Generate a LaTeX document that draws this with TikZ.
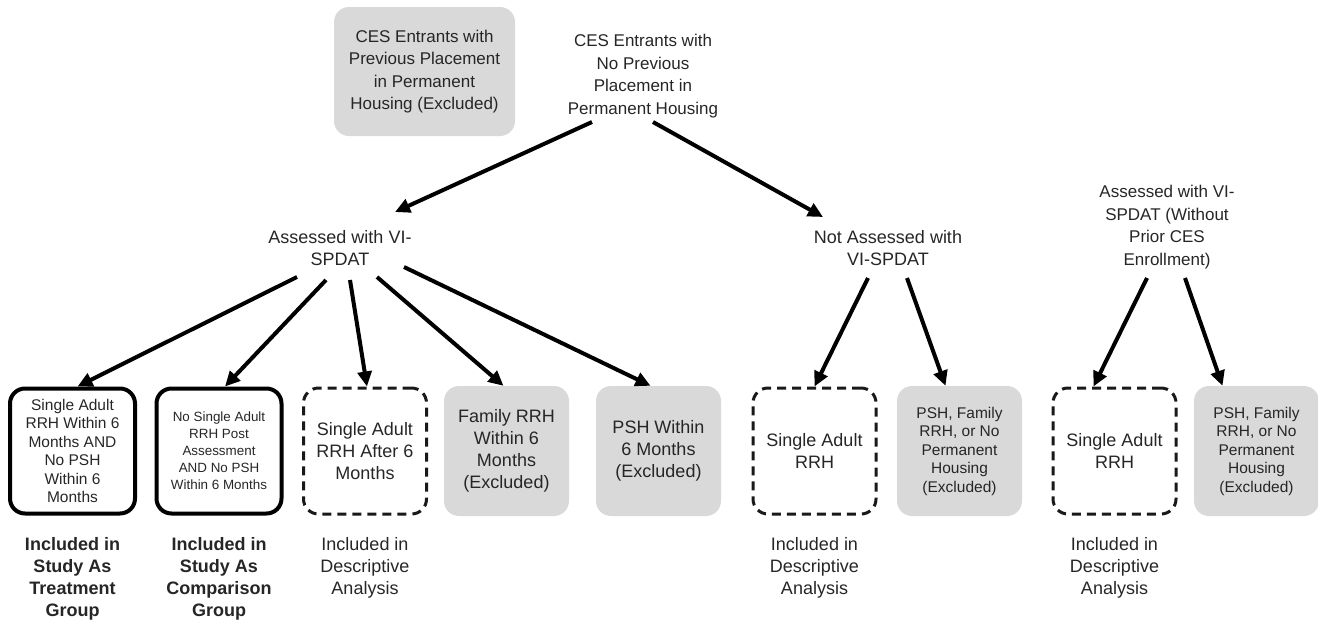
\documentclass[tikz,border=0pt]{standalone}
\usepackage{fontspec}
\setmainfont{Liberation Sans}
\usetikzlibrary{arrows.meta}

\begin{document}
\begin{tikzpicture}[x=1pt,y=-1pt,
  every node/.style={text=black!85, align=center, inner sep=0pt},
  solidbox/.style={draw=black, line width=4pt, rounded corners=15pt, minimum width=125pt, minimum height=125pt},
  dashbox/.style={draw=black!90, line width=3pt, dash pattern=on 9pt off 6pt, rounded corners=15pt, minimum width=123pt, minimum height=126pt},
  greybox/.style={fill=gray!30, rounded corners=15pt, minimum width=125pt, minimum height=130pt},
  arr/.style={line width=4pt, -{Triangle[length=15pt,width=14pt]}},
  big/.style={font=\fontsize{18}{22}\selectfont},
  mid/.style={font=\fontsize{17}{22.5}\selectfont},
  small/.style={font=\fontsize{15.5}{18.5}\selectfont},
  tiny/.style={font=\fontsize{13.4}{17}\selectfont},
  note/.style={font=\fontsize{18}{22}\selectfont},
  notebold/.style={font=\fontsize{18}{22}\selectfont\bfseries}]
\useasboundingbox (0,0) rectangle (1318,622);

% top level
\node[greybox, mid, minimum width=181pt, minimum height=129pt] (prev) at (424.5,71.5)
  {CES Entrants with\\Previous Placement\\in Permanent\\Housing (Excluded)};
\node[mid] (noprev) at (643,76) {CES Entrants with\\No Previous\\Placement in\\Permanent Housing};

% second level
\node[big] (asv) at (340,248) {Assessed with VI-\\SPDAT};
\node[big] (notasv) at (888,248) {Not Assessed with\\VI-SPDAT};
\node[mid] (asvnew) at (1167,227) {Assessed with VI-\\SPDAT (Without\\Prior CES\\Enrollment)};

% outcome boxes
\node[solidbox, small] (treat) at (72.5,451) {Single Adult\\RRH Within 6\\Months AND\\No PSH\\Within 6\\Months};
\node[solidbox, tiny] (comp) at (219,451) {No Single Adult\\RRH Post\\Assessment\\AND No PSH\\Within 6 Months};
\node[dashbox, big] (after) at (365,451) {Single Adult\\RRH After 6\\Months};
\node[greybox, big] (famrrh) at (506.5,451) {Family RRH\\Within 6\\Months\\(Excluded)};
\node[greybox, big] (psh) at (658.5,451) {PSH Within\\6 Months\\(Excluded)};
\node[dashbox, big] (sarrhA) at (814.5,451) {Single Adult\\RRH};
\node[greybox, small] (otherA) at (959.5,451) {PSH, Family\\RRH, or No\\Permanent\\Housing\\(Excluded)};
\node[dashbox, big] (sarrhB) at (1114.5,451) {Single Adult\\RRH};
\node[greybox, small] (otherB) at (1256.5,451) {PSH, Family\\RRH, or No\\Permanent\\Housing\\(Excluded)};

% notes under the boxes
\node[notebold] (ntreat) at (72.5,579) {Included in\\Study As\\Treatment\\Group};
\node[notebold] (ncomp) at (219,579) {Included in\\Study As\\Comparison\\Group};
\node[note] (nafter) at (365,568) {Included in\\Descriptive\\Analysis};
\node[note] (nsarrhA) at (814.5,568) {Included in\\Descriptive\\Analysis};
\node[note] (nsarrhB) at (1114.5,568) {Included in\\Descriptive\\Analysis};

% arrows
\draw[arr] ([shift={(-51,46)}]noprev.center) -- ([shift={(55,-36)}]asv.center);
\draw[arr] ([shift={(10,46)}]noprev.center) -- ([shift={(-65,-31)}]notasv.center);

\draw[arr] ([shift={(-43,29)}]asv.center) -- ([xshift=5pt]treat.north);
\draw[arr] ([shift={(-14,32)}]asv.center) -- ([xshift=6pt]comp.north);
\draw[arr] ([shift={(10,32)}]asv.center) -- ([xshift=2pt]after.north);
\draw[arr] ([shift={(37,29)}]asv.center) -- ([xshift=-3pt]famrrh.north);
\draw[arr] ([shift={(64,19)}]asv.center) -- ([xshift=-8pt]psh.north);

\draw[arr] ([shift={(-20,30)}]notasv.center) -- (sarrhA.north);
\draw[arr] ([shift={(19,30)}]notasv.center) -- ([xshift=-14pt]otherA.north);

\draw[arr] ([shift={(-20,51)}]asvnew.center) -- ([xshift=-21pt]sarrhB.north);
\draw[arr] ([shift={(18,51)}]asvnew.center) -- ([xshift=-34pt]otherB.north);
\end{tikzpicture}
\end{document}
